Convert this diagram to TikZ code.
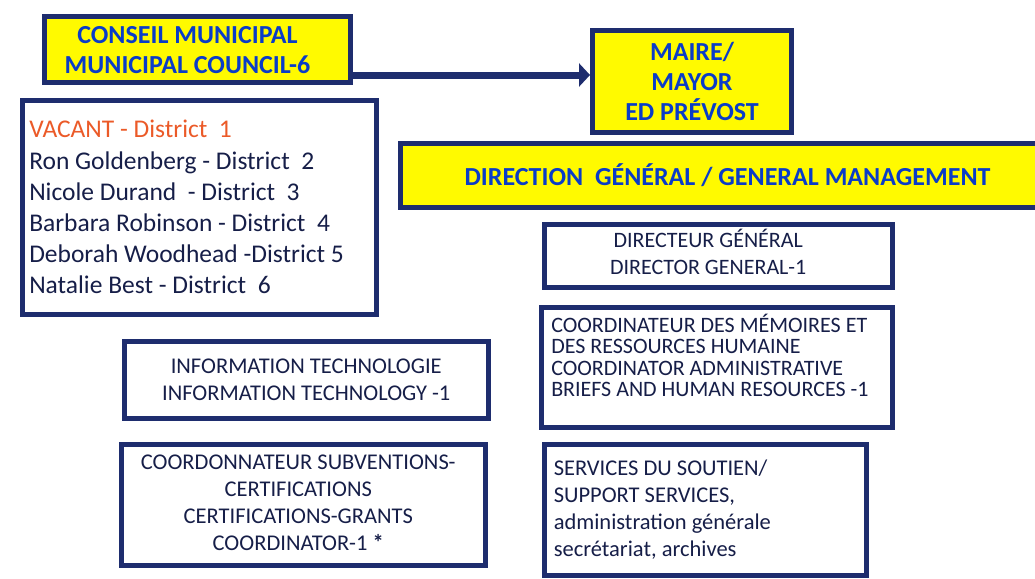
\documentclass[tikz,border=0pt]{standalone}
\usepackage{fontspec}
\setmainfont{Carlito}
\usetikzlibrary{positioning,arrows.meta}

\definecolor{navy}{RGB}{30,45,110}
\definecolor{chartyellow}{RGB}{255,250,0}
\definecolor{titleblue}{RGB}{10,60,200}
\definecolor{inkblue}{RGB}{22,30,72}
\definecolor{vacantred}{RGB}{235,90,40}

\begin{document}
\begin{tikzpicture}[x=1pt,y=-1pt]
\tikzset{
	headbox/.style={
		draw=navy,
		fill=chartyellow,
		line width=5pt,
		anchor=north west,
		inner sep=0pt,
		text=titleblue,
		font=\fontsize{26}{30}\selectfont\bfseries
	},
	unitbox/.style={
		draw=navy,
		line width=4.5pt,
		anchor=north west,
		inner sep=0pt,
		text=inkblue,
		font=\fontsize{22.5}{27}\selectfont
	},
	flow/.style={
		draw=navy,
		line width=7pt,
		-{Triangle[length=11pt,width=23pt]}
	}
}
\useasboundingbox (0,0) rectangle (1035,578);

%--------------------------- yellow boxes ------------
\node[headbox, minimum width=306pt, minimum height=66pt, text height=42pt] (CONSEIL) at (42,14)
{\begin{tabular}{@{}c@{}}CONSEIL MUNICIPAL\\MUNICIPAL COUNCIL-6\end{tabular}\hspace*{20pt}};

\node[headbox, minimum width=199pt, minimum height=102pt, align=center] (MAIRE) at (590,28)
{MAIRE/\\MAYOR\\ED PRÉVOST};

\node[headbox, minimum width=654pt, minimum height=64pt] (DG) at (398,141)
{DIRECTION~~GÉNÉRAL / GENERAL MANAGEMENT};

\coordinate (arrowstart) at ([yshift=10pt]CONSEIL.south east);
\draw[flow] (arrowstart) -- (arrowstart -| MAIRE.west);

%--------------------------- council ------------
\node[unitbox, minimum width=354pt, minimum height=214pt, text width=340pt, align=flush left,
inner xsep=7pt, font=\fontsize{25.5}{31.2}\selectfont] (DISTRICTS) at (20,98)
{\textcolor{vacantred}{VACANT - District~~1}\\
Ron Goldenberg - District~~2\\
Nicole Durand~~- District~~3\\
Barbara Robinson - District~~4\\
Deborah Woodhead -District 5\\
Natalie Best - District~~6};

\node[unitbox, minimum width=364pt, minimum height=77pt, align=center] (IT) at (122,339)
{INFORMATION TECHNOLOGIE\\INFORMATION TECHNOLOGY -1};

\node[unitbox, minimum width=364pt, minimum height=121pt] (GRANTS) at (119,442)
{\begin{tabular}{@{}c@{}}COORDONNATEUR SUBVENTIONS-\\CERTIFICATIONS\\CERTIFICATIONS-GRANTS\\COORDINATOR-1 \textbf{*}\end{tabular}\hspace*{10pt}};

%--------------------------- management ------------
\node[unitbox, minimum width=348pt, minimum height=63pt, font=\fontsize{22}{27}\selectfont] (DIRECTOR) at (542,222)
{\begin{tabular}{@{}c@{}}DIRECTEUR GÉNÉRAL\\DIRECTOR GENERAL-1\end{tabular}\hspace*{20pt}};

\node[unitbox, minimum width=351pt, minimum height=120pt, text width=331pt, align=flush left,
inner xsep=10pt, text depth=88pt, font=\fontsize{22}{21.5}\selectfont] (HR) at (539,305)
{COORDINATEUR DES MÉMOIRES ET\\
DES RESSOURCES HUMAINE\\
COORDINATOR ADMINISTRATIVE\\
BRIEFS AND HUMAN RESOURCES -1};

\node[unitbox, minimum width=322pt, minimum height=131pt, text width=303pt, align=flush left,
inner xsep=9.5pt] (SUPPORT) at (542,442)
{SERVICES DU SOUTIEN/\\
SUPPORT SERVICES,\\
administration générale\\
secrétariat, archives};

\end{tikzpicture}
\end{document}
